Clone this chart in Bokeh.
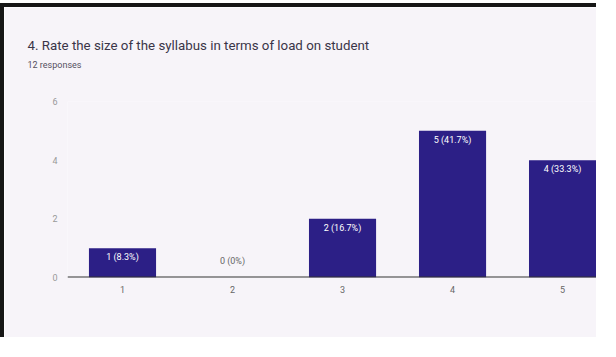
from bokeh.plotting import figure
from bokeh.models import (Range1d, FixedTicker, Span, Title, ColumnDataSource,
                          InlineStyleSheet)
from bokeh.embed import file_html
from bokeh.resources import INLINE
from bokeh.core.properties import value

# ---- data ----
title_text = "4. Rate the size of the syllabus in terms of load on student"
subtitle_text = "12 responses"
categories = ["1", "2", "3", "4", "5"]
counts = [1, 0, 2, 5, 4]
y_ticks = [0, 2, 4, 6]

total = sum(counts)
def fmt(c):
    p = 100.0 * c / total
    return f"{c} ({p:.0f}%)" if c == 0 else f"{c} ({p:.1f}%)"
labels = [fmt(c) for c in counts]

xs = list(range(1, len(categories) + 1))
bar_color = "#2c1f86"
bg = "#f7f4f9"

W, H = 596, 334
p = figure(width=W, height=H, output_backend="svg", toolbar_location=None,
           x_range=Range1d(0.5, 5.345), y_range=Range1d(0, 6),
           min_border_left=63, min_border_right=0, min_border_top=94,
           min_border_bottom=64)
p.background_fill_color = bg
p.border_fill_color = bg
p.outline_line_color = None
p.xgrid.grid_line_color = None
p.ygrid.grid_line_color = None
p.stylesheets = [InlineStyleSheet(css=":host { border-top: 4px solid #161616; "
                                      "border-left: 4px solid #161616; "
                                      "margin-top: 3px; }")]

src = ColumnDataSource(dict(x=xs, top=counts))
p.vbar(x="x", top="top", width=0.61, bottom=0, source=src,
       fill_color=bar_color, line_color=None)

p.add_layout(Span(location=0, dimension="width", line_color="#333333",
                  line_width=2))

in_src = ColumnDataSource(dict(x=[x for x, c in zip(xs, counts) if c > 0],
                               y=[c for c in counts if c > 0],
                               t=[l for l, c in zip(labels, counts) if c > 0]))
zero_src = ColumnDataSource(dict(x=[x for x, c in zip(xs, counts) if c == 0],
                                 y=[c for c in counts if c == 0],
                                 t=[l for l, c in zip(labels, counts) if c == 0]))
p.text(x="x", y="y", text="t", source=in_src, text_color="#ffffff",
       text_font=value("Roboto"), text_font_size="9px", text_align="center",
       text_baseline="middle", y_offset=9)
p.text(x="x", y="y", text="t", source=zero_src, text_color="#666666",
       text_font=value("Roboto"), text_font_size="9px", text_align="center",
       text_baseline="middle", y_offset=-17)

# axes
p.xaxis.ticker = FixedTicker(ticks=xs)
p.xaxis.major_label_overrides = {x: c for x, c in zip(xs, categories)}
p.xaxis.axis_line_color = None
p.xaxis.major_tick_line_color = None
p.xaxis.minor_tick_line_color = None
p.xaxis.major_tick_out = 0
p.xaxis.major_tick_in = 0
p.xaxis.major_label_standoff = 8
p.xaxis.major_label_text_font = "Roboto"
p.xaxis.major_label_text_font_size = "9px"
p.xaxis.major_label_text_color = "#666666"

p.yaxis.ticker = FixedTicker(ticks=y_ticks)
p.yaxis.axis_line_color = None
p.yaxis.major_tick_line_color = None
p.yaxis.minor_tick_line_color = None
p.yaxis.major_tick_out = 0
p.yaxis.major_tick_in = 0
p.yaxis.major_label_standoff = 10
p.yaxis.major_label_text_font = "Roboto"
p.yaxis.major_label_text_font_size = "9px"
p.yaxis.major_label_text_color = "#999999"

# titles: spacer nearest the frame, then subtitle, then main title
p.add_layout(Title(text=" ", text_font_size="1px", standoff=28), "above")
p.add_layout(Title(text=subtitle_text, align="left", offset=-40, standoff=2,
                   text_font="Roboto", text_font_size="9px",
                   text_font_style="normal", text_color="#55505f"), "above")
p.add_layout(Title(text=title_text, align="left", offset=-40, standoff=7,
                   text_font="Roboto", text_font_size="13.3px",
                   text_font_style="normal", text_color="#3a3548"), "above")

open("out.html", "w").write(file_html(p, INLINE))
